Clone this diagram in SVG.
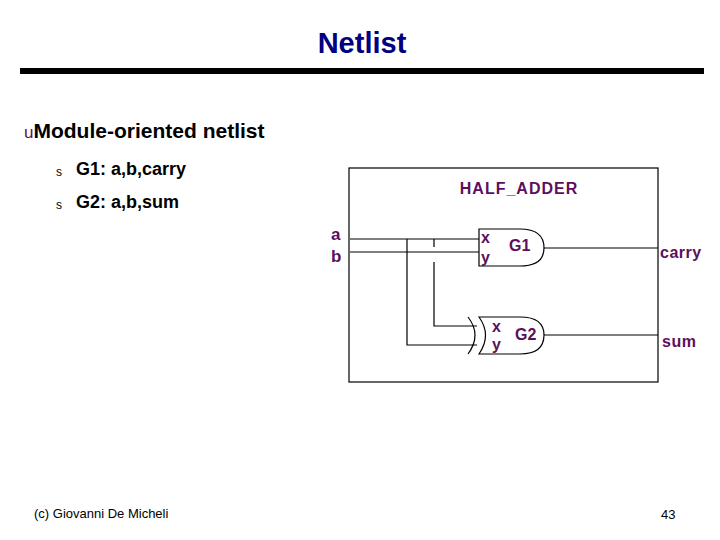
<svg xmlns="http://www.w3.org/2000/svg" width="720" height="540" viewBox="0 0 720 540">
<style>
.p{font-family:"Liberation Sans",Arial,sans-serif;font-weight:bold;fill:#5c0f5c}
.w{fill:none;stroke:#000;stroke-width:1.2}
.t{font-family:"Liberation Sans",Arial,sans-serif;fill:#000}
</style>
<rect width="720" height="540" fill="#fff"/>
<text x="362" y="53" text-anchor="middle" class="t" style="font-size:29px;font-weight:bold;fill:#000080">Netlist</text>
<rect x="20" y="68" width="684" height="6" fill="#000"/>
<text x="24" y="138" class="t" style="font-size:21px;font-weight:bold"><tspan style="fill:#5c0f5c;font-size:17px;font-weight:normal">u</tspan>Module-oriented netlist</text>
<text x="56" y="176" class="t" style="font-size:12px">s</text>
<text x="76" y="175" class="t" style="font-size:18px;font-weight:bold">G1: a,b,carry</text>
<text x="56" y="209" class="t" style="font-size:12px">s</text>
<text x="76" y="208" class="t" style="font-size:18px;font-weight:bold">G2: a,b,sum</text>
<g id="box"><rect x="349" y="168" width="309" height="214" class="w"/>
<text x="519" y="194" text-anchor="middle" class="p" style="font-size:16px;letter-spacing:1px">HALF_ADDER</text></g>
<g id="connectors">
<path class="w" d="M350 239H479M350 252H479M544 248H658M544 335H658"/>
<path class="w" d="M407 239V345H477M434 239V247M434 262V326H477"/>
</g>
<g id="G1"><path class="w" d="M479 229H520Q544 229 544 248Q544 266 520 266H479Z"/>
<text x="481" y="243" class="p" style="font-size:16px">x</text><text x="481" y="263" class="p" style="font-size:16px">y</text>
<text x="509" y="251" class="p" style="font-size:16px">G1</text></g>
<g id="G2"><path class="w" d="M479 317H520Q544 317 544 335Q544 354 520 354H479Q492 335 479 317Z"/>
<path class="w" d="M468 317Q482 335 468 354"/>
<text x="492" y="332" class="p" style="font-size:16px">x</text><text x="492" y="350" class="p" style="font-size:16px">y</text>
<text x="515" y="340" class="p" style="font-size:16px">G2</text></g>
<text x="331" y="240" class="p" style="font-size:17px">a</text>
<text x="331" y="262" class="p" style="font-size:17px">b</text>
<text x="660" y="258" class="p" style="font-size:16px;letter-spacing:0.5px">carry</text>
<text x="662" y="347" class="p" style="font-size:16px;letter-spacing:0.5px">sum</text>
<text x="34" y="518" class="t" style="font-size:13px">(c)  Giovanni De Micheli</text>
<text x="661" y="519" class="t" style="font-size:13px">43</text>
</svg>
